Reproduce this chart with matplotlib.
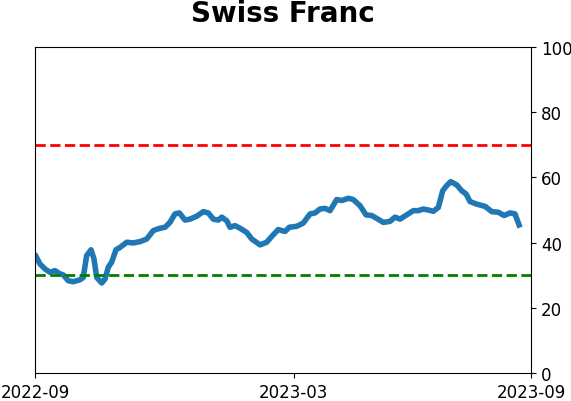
import matplotlib
matplotlib.use("Agg")
import matplotlib.pyplot as plt

title = "Swiss Franc"
# x position as day offset within the 365-day window shown
days = [0.7, 3.7, 7.4, 11.0, 14.7, 18.4, 20.8, 24.5, 28.2, 33.1, 35.5, 38.0, 41.2, 43.4, 45.4,
        49.1, 51.5, 53.9, 56.4, 59.6, 62.5, 67.5, 72.3, 77.3, 82.2, 87.1, 92.0, 95.7, 99.3,
        103.0, 106.2, 110.4, 114.1, 119.0, 123.9, 127.5, 131.2, 134.9, 137.4, 141.1, 143.5,
        147.2, 150.9, 155.8, 159.5, 165.6, 170.5, 174.2, 179.0, 184.0, 187.1,
        192.6, 197.4, 202.4, 206.1, 209.7, 213.4, 217.1, 222.0, 225.7, 230.6, 234.2, 239.2,
        243.6, 247.8, 251.5, 256.3, 261.2, 264.9, 268.6, 273.5, 278.4, 282.1, 285.7, 289.4,
        293.1, 296.8, 300.0, 303.0, 305.9, 310.3, 314.0, 317.2, 320.1, 325.0, 331.2, 336.1,
        341.0, 345.1, 349.6, 353.2, 356.2]
values = [35.8, 33.4, 31.9, 30.9, 31.4, 30.4, 30.1, 28.3, 28.0, 28.6, 29.3, 36.0, 37.8, 35.0, 29.3,
          27.6, 28.8, 32.4, 34.0, 37.8, 38.5, 40.1, 39.9, 40.3, 41.1, 43.7, 44.4, 44.7, 46.2,
          48.8, 49.1, 46.9, 47.2, 48.1, 49.5, 49.1, 47.2, 46.9, 47.8, 46.7, 44.7,
          45.2, 44.4, 43.1, 41.1, 39.3, 40.1, 41.9, 44.0, 43.4, 44.7,
          45.0, 46.0, 48.8, 49.1, 50.3, 50.5, 49.8, 53.2, 52.9, 53.6, 53.2, 51.3,
          48.5, 48.3, 47.4, 46.2, 46.5, 47.8, 47.2, 48.5, 49.8, 49.8, 50.3, 50.0,
          49.6, 50.8, 55.9, 57.5, 58.7, 57.7, 55.9, 54.9, 52.6, 51.8, 51.1, 49.5,
          49.3, 48.3, 49.1, 48.8, 45.4]

tick_days = [0, 190.5, 365]
tick_labels = ["2022-09", "2023-03", "2023-09"]
upper_level = 70
lower_level = 30

fig = plt.figure(figsize=(5.71, 4.02), dpi=100)
ax = fig.add_axes([0.0613, 0.0697, 0.8687, 0.8109])
ax.plot(days, values, color="#1f77b4", linewidth=4)
ax.axhline(upper_level, color="red", linestyle="--", linewidth=2)
ax.axhline(lower_level, color="green", linestyle="--", linewidth=2)
ax.set_xlim(0, 365)
ax.set_ylim(0, 100)
ax.set_xticks(tick_days)
ax.set_xticklabels(tick_labels)
ax.yaxis.tick_right()
ax.set_yticks([0, 20, 40, 60, 80, 100])
ax.tick_params(labelsize=12)
ax.set_title(title, fontsize=20, fontweight="bold", pad=19)
fig.savefig("out.png", dpi=100)
